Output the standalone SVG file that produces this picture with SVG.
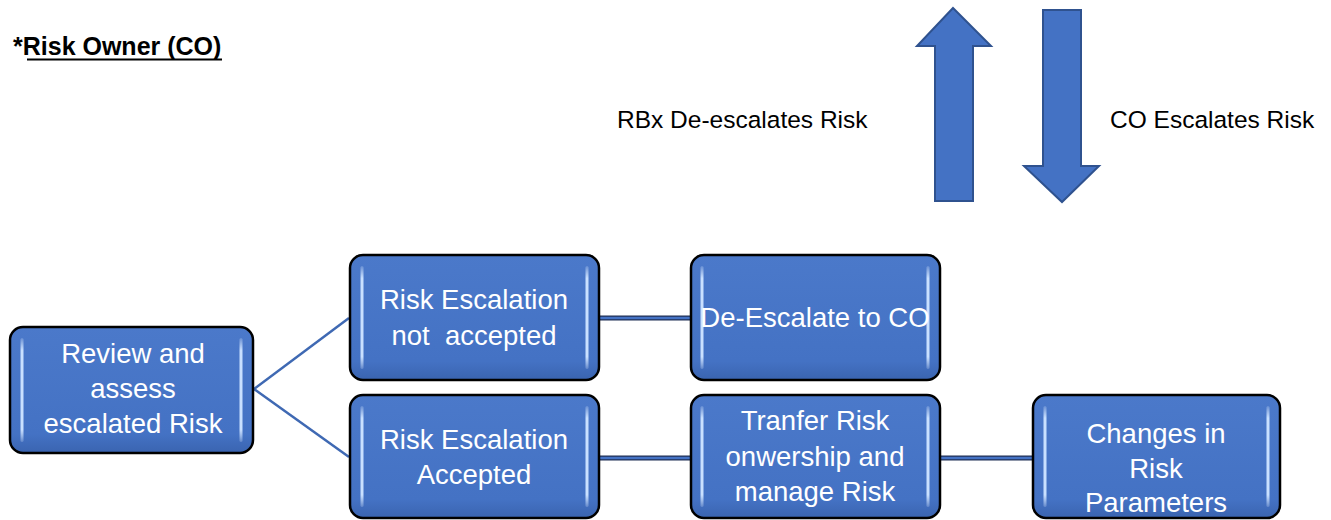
<svg xmlns="http://www.w3.org/2000/svg" width="1331" height="520" viewBox="0 0 1331 520">
<defs>
<linearGradient id="bg" x1="0" y1="0" x2="0" y2="1">
<stop offset="0" stop-color="#4B79CA"/>
<stop offset="0.85" stop-color="#4472C4"/>
<stop offset="1" stop-color="#3A64B0"/>
</linearGradient>
<linearGradient id="hl" x1="0" y1="0" x2="0" y2="1">
<stop offset="0" stop-color="#DDEBFF" stop-opacity="0.2"/>
<stop offset="0.12" stop-color="#C9E0FF"/>
<stop offset="0.88" stop-color="#C9E0FF"/>
<stop offset="1" stop-color="#DDEBFF" stop-opacity="0.2"/>
</linearGradient>
</defs>
<style>
.box{fill:url(#bg);stroke:#000;stroke-width:2.5}
.hl{fill:url(#hl)}
.t{font-family:"Liberation Sans",Arial,sans-serif;font-size:27.5px;fill:#fff;text-anchor:middle;white-space:pre}
.lbl{font-family:"Liberation Sans",Arial,sans-serif;font-size:24.5px;fill:#000}
.arrow{fill:#4472C4;stroke:#2F528F;stroke-width:2}
.diag{stroke:#3F69B3;stroke-width:2.5;fill:none}
.hb{stroke:#1F2F55;stroke-width:5;fill:none}
.hf{stroke:#4472C4;stroke-width:2.5;fill:none}
</style>
<rect width="1331" height="520" fill="#fff"/>

<g id="title">
<text x="13" y="55" font-family="'Liberation Sans',Arial,sans-serif" font-size="25" font-weight="bold" fill="#000">*Risk Owner (CO)</text>
<line x1="27" y1="59.5" x2="222" y2="59.5" stroke="#000" stroke-width="2"/>
</g>

<g id="arrow-up">
<polygon class="arrow" points="953,8 991,46 973,46 973,201 935,201 935,46 917,46"/>
</g>
<g id="arrow-down">
<polygon class="arrow" points="1043,10 1081,10 1081,166 1099,166 1062,202 1024,166 1043,166"/>
</g>
<g id="label-deescalate"><text class="lbl" x="617" y="128">RBx De-escalates Risk</text></g>
<g id="label-escalate"><text class="lbl" x="1110" y="128">CO Escalates Risk</text></g>

<g id="connectors">
<line class="diag" x1="254" y1="389" x2="349" y2="318"/>
<line class="diag" x1="254" y1="389" x2="349" y2="457"/>
<line class="hb" x1="599" y1="318" x2="690" y2="318"/>
<line class="hf" x1="599" y1="318" x2="690" y2="318"/>
<line class="hb" x1="599" y1="458" x2="690" y2="458"/>
<line class="hf" x1="599" y1="458" x2="690" y2="458"/>
<line class="hb" x1="940" y1="458" x2="1032" y2="458"/>
<line class="hf" x1="940" y1="458" x2="1032" y2="458"/>
</g>

<g id="node-review">
<rect class="box" x="10" y="327" width="243" height="126" rx="13"/>
<rect class="hl" x="20.5" y="338" width="3" height="104" rx="1.5"/>
<rect class="hl" x="239.5" y="338" width="3" height="104" rx="1.5"/>
<text class="t" x="133" y="363">Review and</text>
<text class="t" x="133" y="398">assess</text>
<text class="t" x="133" y="433">escalated Risk</text>
</g>

<g id="node-not-accepted">
<rect class="box" x="350" y="255" width="249" height="125" rx="13"/>
<rect class="hl" x="360.5" y="266" width="3" height="103" rx="1.5"/>
<rect class="hl" x="585.5" y="266" width="3" height="103" rx="1.5"/>
<text class="t" x="474" y="309">Risk Escalation</text>
<text class="t" x="474" y="345">not  accepted</text>
</g>

<g id="node-accepted">
<rect class="box" x="350" y="395" width="249" height="123" rx="13"/>
<rect class="hl" x="360.5" y="406" width="3" height="101" rx="1.5"/>
<rect class="hl" x="585.5" y="406" width="3" height="101" rx="1.5"/>
<text class="t" x="474" y="449">Risk Escalation</text>
<text class="t" x="474" y="484">Accepted</text>
</g>

<g id="node-deescalate">
<rect class="box" x="691" y="255" width="249" height="125" rx="13"/>
<rect class="hl" x="700.5" y="266" width="3" height="103" rx="1.5"/>
<rect class="hl" x="926.5" y="266" width="3" height="103" rx="1.5"/>
<text class="t" x="815" y="327">De-Escalate to CO</text>
</g>

<g id="node-transfer">
<rect class="box" x="691" y="395" width="249" height="123" rx="13"/>
<rect class="hl" x="700.5" y="406" width="3" height="101" rx="1.5"/>
<rect class="hl" x="926.5" y="406" width="3" height="101" rx="1.5"/>
<text class="t" x="815" y="430">Tranfer Risk</text>
<text class="t" x="815" y="466">onwership and</text>
<text class="t" x="815" y="501">manage Risk</text>
</g>

<g id="node-changes">
<rect class="box" x="1033" y="395" width="247" height="123" rx="13"/>
<rect class="hl" x="1043.5" y="406" width="3" height="101" rx="1.5"/>
<rect class="hl" x="1266.5" y="406" width="3" height="101" rx="1.5"/>
<text class="t" x="1156" y="443">Changes in</text>
<text class="t" x="1156" y="478">Risk</text>
<text class="t" x="1156" y="512">Parameters</text>
</g>
</svg>
